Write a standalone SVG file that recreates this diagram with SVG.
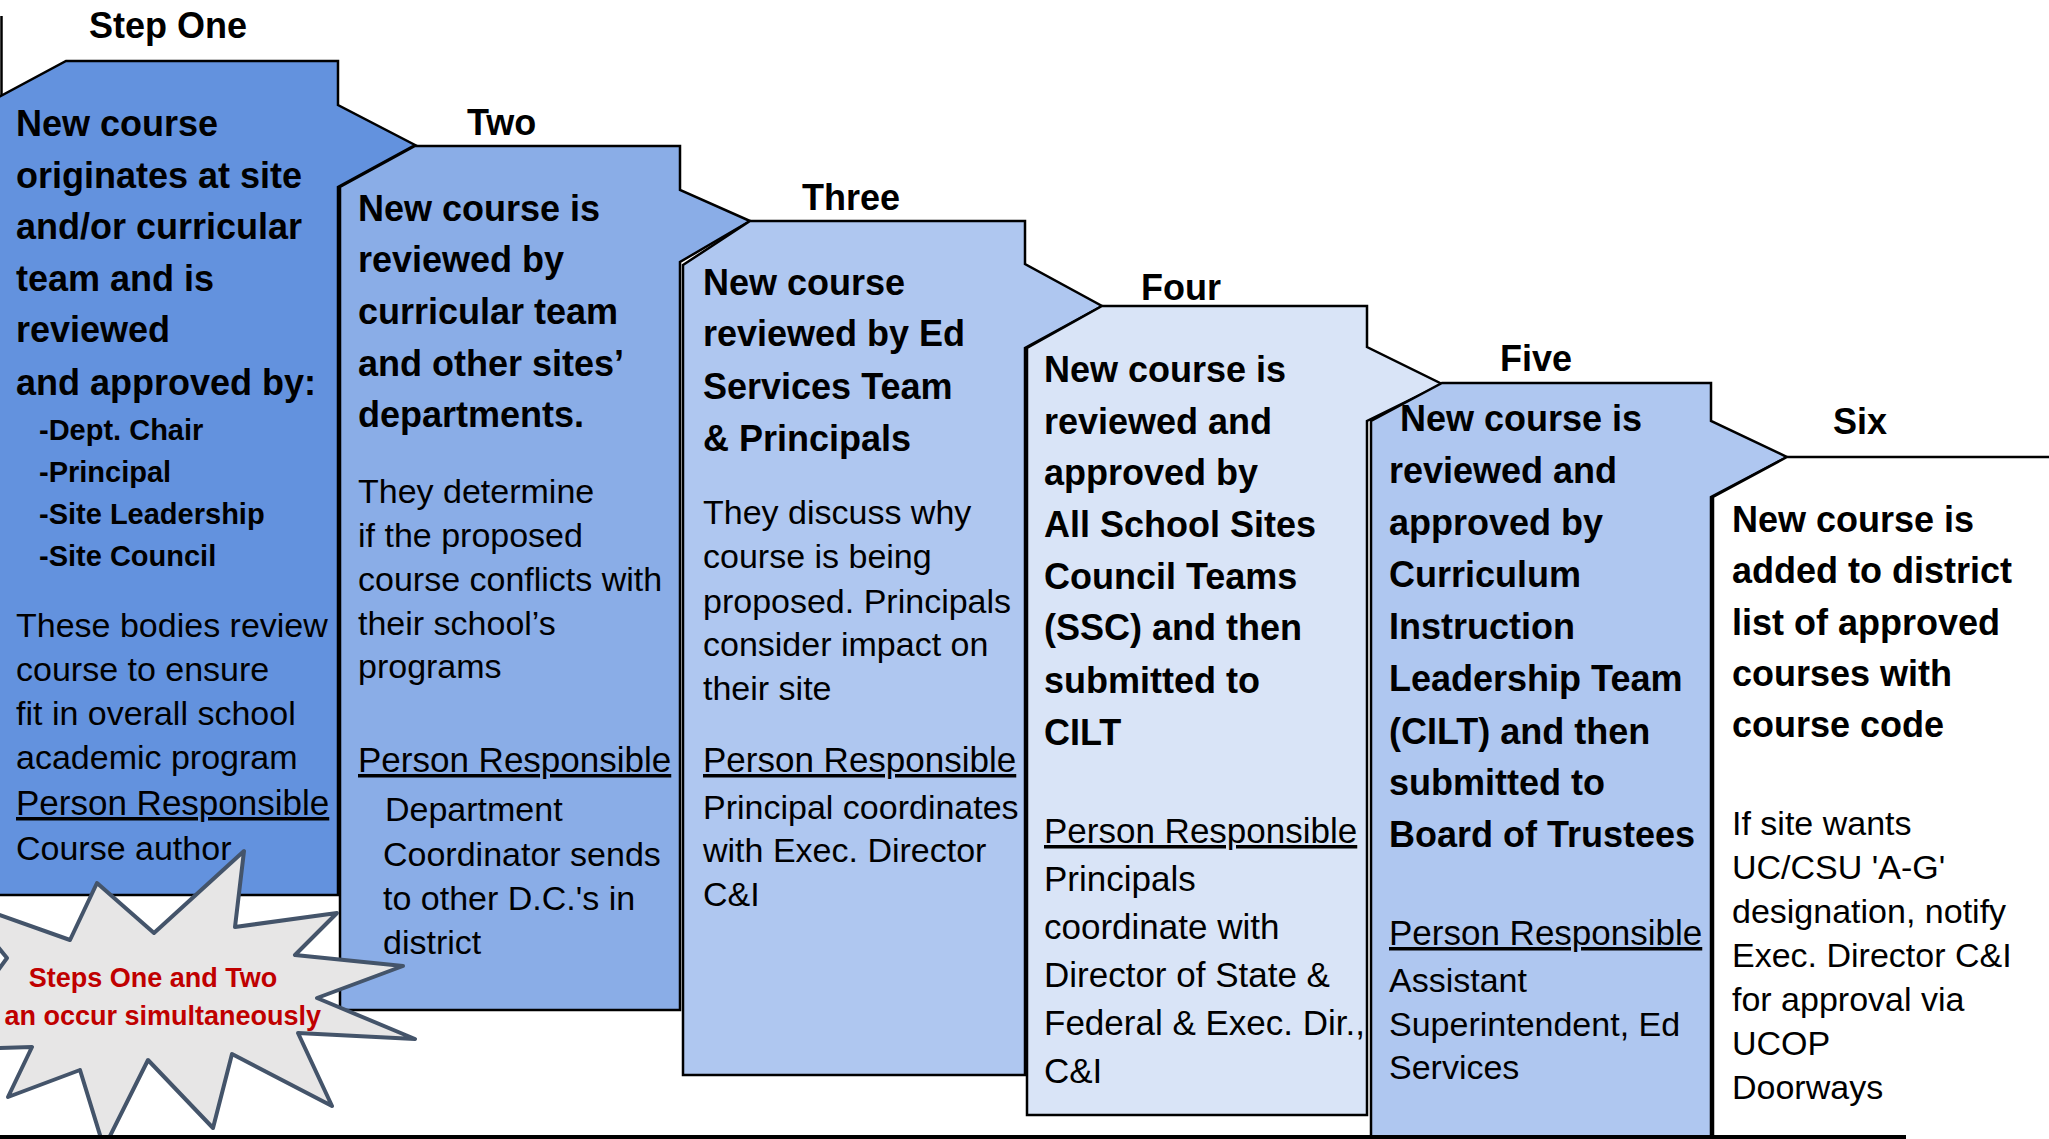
<svg xmlns="http://www.w3.org/2000/svg" width="2049" height="1139" viewBox="0 0 2049 1139">
<style>
text{font-family:"Liberation Sans",Arial,sans-serif;fill:#000}
.b{font-size:36px;font-weight:bold}
.n{font-size:34px}
.n4{font-size:35px}
.s{font-size:29px;font-weight:bold}
.pr{font-size:35px;text-decoration:underline}
.lbl{font-size:36px;font-weight:bold}
.red{font-size:27px;font-weight:bold;fill:#C00000}
.box{stroke:#000;stroke-width:2.5;stroke-linejoin:miter}
</style>
<rect width="2049" height="1139" fill="#fff"/>
<g id="connectors">
<line x1="1.5" y1="16" x2="1.5" y2="98" stroke="#000" stroke-width="2.5"/>
</g>
<g id="step1">
<path class="box" fill="#6392DE" d="M-3,98 L66,61 L338,61 L338,105 L415,145 L338,187 L338,895 L-3,895 Z"/>
<text class="lbl" x="89" y="38">Step One</text>
<text class="b" x="16" y="136">New course</text>
<text class="b" x="16" y="188">originates at site</text>
<text class="b" x="16" y="239">and/or curricular</text>
<text class="b" x="16" y="291">team  and is</text>
<text class="b" x="16" y="342">reviewed</text>
<text class="b" x="16" y="395">and approved by:</text>
<text class="s" x="39" y="440">-Dept. Chair</text>
<text class="s" x="39" y="482">-Principal</text>
<text class="s" x="39" y="524">-Site Leadership</text>
<text class="s" x="39" y="566">-Site Council</text>
<text class="n" x="16" y="637">These bodies review</text>
<text class="n" x="16" y="681">course to ensure</text>
<text class="n" x="16" y="725">fit in overall school</text>
<text class="n" x="16" y="769">academic program</text>
<text class="pr" x="16" y="815">Person Responsible</text>
<text class="n" x="16" y="860">Course author</text>
</g>
<g id="step2">
<path class="box" fill="#8AADE7" d="M340,187 L415,146 L680,146 L680,190 L750,221 L680,262 L680,1010 L340,1010 Z"/>
<text class="lbl" x="467" y="135">Two</text>
<text class="b" x="358" y="221">New course is</text>
<text class="b" x="358" y="272">reviewed by</text>
<text class="b" x="358" y="324">curricular team</text>
<text class="b" x="358" y="376">and other sites’</text>
<text class="b" x="358" y="427">departments.</text>
<text class="n" x="358" y="503">They determine</text>
<text class="n" x="358" y="547">if the proposed</text>
<text class="n" x="358" y="591">course conflicts with</text>
<text class="n" x="358" y="635">their school’s</text>
<text class="n" x="358" y="678">programs</text>
<text class="pr" x="358" y="772">Person Responsible</text>
<text class="n" x="385" y="821">Department</text>
<text class="n" x="383" y="866">Coordinator sends</text>
<text class="n" x="383" y="910">to other D.C.'s in</text>
<text class="n" x="383" y="954">district</text>
</g>
<g id="step3">
<path class="box" fill="#AFC7F0" d="M683,265 L750,221 L1025,221 L1025,264 L1102,306 L1025,348 L1025,1075 L683,1075 Z"/>
<text class="lbl" x="802" y="210">Three</text>
<text class="b" x="703" y="295">New course</text>
<text class="b" x="703" y="346">reviewed by Ed</text>
<text class="b" x="703" y="399">Services Team</text>
<text class="b" x="703" y="451">&amp; Principals</text>
<text class="n" x="703" y="524">They discuss why</text>
<text class="n" x="703" y="568">course is being</text>
<text class="n" x="703" y="613">proposed. Principals</text>
<text class="n" x="703" y="656">consider impact on</text>
<text class="n" x="703" y="700">their site</text>
<text class="pr" x="703" y="772">Person Responsible</text>
<text class="n" x="703" y="819">Principal coordinates</text>
<text class="n" x="703" y="862">with Exec. Director</text>
<text class="n" x="703" y="906">C&amp;I</text>
</g>
<g id="step4">
<path class="box" fill="#D9E4F7" d="M1027,348 L1102,306 L1367,306 L1367,347 L1442,384 L1367,421 L1367,1115 L1027,1115 Z"/>
<text class="lbl" x="1141" y="300">Four</text>
<text class="b" x="1044" y="382">New course is</text>
<text class="b" x="1044" y="434">reviewed and</text>
<text class="b" x="1044" y="485">approved by</text>
<text class="b" x="1044" y="537">All School Sites</text>
<text class="b" x="1044" y="589">Council Teams</text>
<text class="b" x="1044" y="640">(SSC) and then</text>
<text class="b" x="1044" y="693">submitted to</text>
<text class="b" x="1044" y="745">CILT</text>
<text class="pr" x="1044" y="843">Person Responsible</text>
<text class="n4" x="1044" y="891">Principals</text>
<text class="n4" x="1044" y="939">coordinate with</text>
<text class="n4" x="1044" y="987">Director of State &amp;</text>
<text class="n4" x="1044" y="1035">Federal &amp; Exec. Dir.,</text>
<text class="n4" x="1044" y="1083">C&amp;I</text>
</g>
<g id="step5">
<path class="box" fill="#AFC7F0" d="M1371,421 L1442,383 L1711,383 L1711,421 L1787,457 L1711,497 L1711,1137 L1371,1137 Z"/>
<text class="lbl" x="1500" y="371">Five</text>
<text class="b" x="1400" y="431">New course is</text>
<text class="b" x="1389" y="483">reviewed and</text>
<text class="b" x="1389" y="535">approved by</text>
<text class="b" x="1389" y="587">Curriculum</text>
<text class="b" x="1389" y="639">Instruction</text>
<text class="b" x="1389" y="691">Leadership Team</text>
<text class="b" x="1389" y="744">(CILT) and then</text>
<text class="b" x="1389" y="795">submitted to</text>
<text class="b" x="1389" y="847">Board of Trustees</text>
<text class="pr" x="1389" y="945">Person Responsible</text>
<text class="n" x="1389" y="992">Assistant</text>
<text class="n" x="1389" y="1036">Superintendent, Ed</text>
<text class="n" x="1389" y="1079">Services</text>
</g>
<g id="step6">
<path fill="#fff" d="M1713,497 L1787,457 L2055,457 L2055,1137 L1713,1137 Z"/>
<path fill="none" stroke="#000" stroke-width="2.5" d="M1713,1137 L1713,497 L1787,457 L2055,457"/>
<text class="lbl" x="1833" y="434">Six</text>
<text class="b" x="1732" y="532">New course is</text>
<text class="b" x="1732" y="583">added to district</text>
<text class="b" x="1732" y="635">list of approved</text>
<text class="b" x="1732" y="686">courses with</text>
<text class="b" x="1732" y="737">course code</text>
<text class="n" x="1732" y="835">If site wants</text>
<text class="n" x="1732" y="879">UC/CSU 'A-G'</text>
<text class="n" x="1732" y="923">designation, notify</text>
<text class="n" x="1732" y="967">Exec. Director C&amp;I</text>
<text class="n" x="1732" y="1011">for approval via</text>
<text class="n" x="1732" y="1055">UCOP</text>
<text class="n" x="1732" y="1099">Doorways</text>
</g>
<g id="burst">
<path fill="#E7E6E6" stroke="#44546A" stroke-width="4" stroke-linejoin="round" d="M244,851 L235,927 L337,913 L295,955 L403,966 L317,998 L415,1039 L298,1033 L332,1106 L232,1054 L213,1128 L148,1060 L104,1148 L80,1070 L8,1097 L32,1047 L-60,1050 L7,958 L-40,901 L70,940 L97,883 L154,933 Z"/>
<text class="red" x="153" y="987" text-anchor="middle">Steps One and Two</text>
<text class="red" x="321" y="1025" text-anchor="end">an occur simultaneously</text>
</g>
<g id="baseline">
<line x1="0" y1="1137" x2="1906" y2="1137" stroke="#000" stroke-width="4"/>
</g>
</svg>
